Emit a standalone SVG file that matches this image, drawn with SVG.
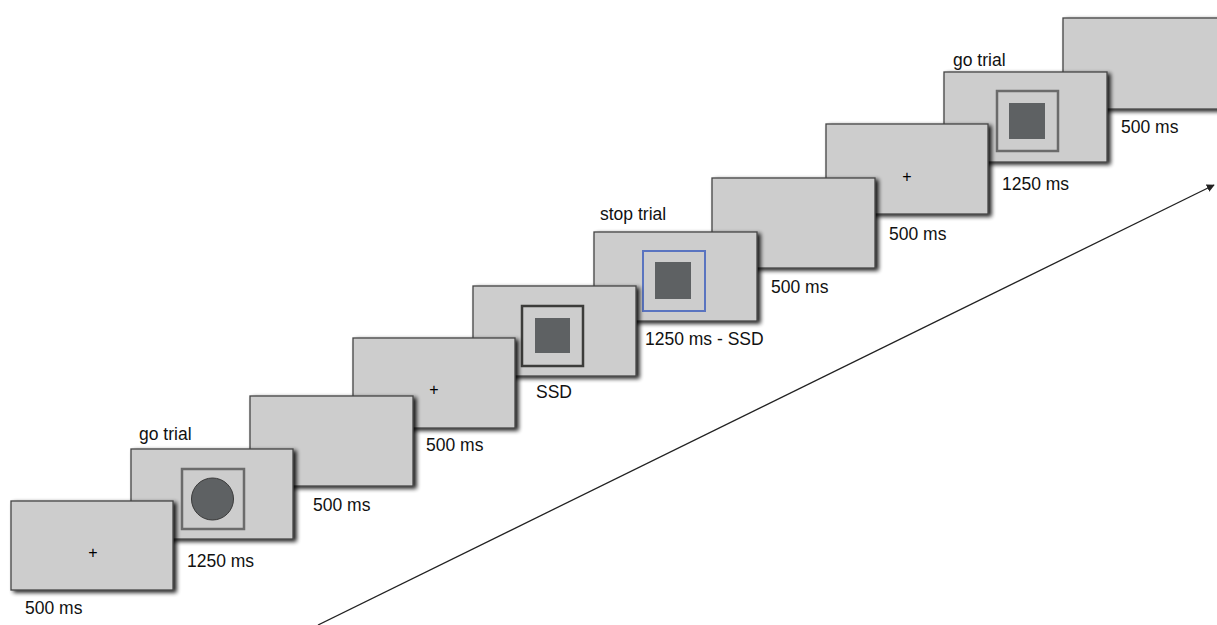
<svg xmlns="http://www.w3.org/2000/svg" width="1217" height="625" viewBox="0 0 1217 625">
<defs>
<filter id="sh" x="-10%" y="-10%" width="125%" height="130%">
<feGaussianBlur in="SourceAlpha" stdDeviation="2"/>
<feOffset dx="2.5" dy="2" result="b"/>
<feComponentTransfer><feFuncA type="linear" slope="0.9"/></feComponentTransfer>
<feMerge><feMergeNode/><feMergeNode in="SourceGraphic"/></feMerge>
</filter>
<marker id="ah" viewBox="0 0 10 10" refX="9" refY="5" markerWidth="8" markerHeight="8" orient="auto" markerUnits="userSpaceOnUse">
<path d="M0,0 L10,5 L0,10 z" fill="#222"/>
</marker>
</defs>
<style>
.scr{fill:#cdcdcd;stroke:#454545;stroke-width:1.3;filter:url(#sh)}
.frm{fill:none;stroke:#6b6b6b;stroke-width:2.5}
.stim{fill:#5e6163}
.t{font-family:"Liberation Sans",Arial,sans-serif;font-size:17.5px;fill:#111}
.p{font-family:"Liberation Sans",Arial,sans-serif;font-size:16px;fill:#000;text-anchor:middle}
</style>
<rect width="1217" height="625" fill="#fff"/>
<g id="connectors">
<line x1="318" y1="625" x2="1214" y2="185" stroke="#222" stroke-width="1.3" marker-end="url(#ah)"/>
</g>
<g id="screen10">
<rect class="scr" x="1063" y="18" width="170" height="91"/>
<text class="t" x="1121" y="133">500 ms</text>
</g>
<g id="screen9">
<rect class="scr" x="944" y="72" width="163" height="90"/>
<rect class="frm" x="997" y="91" width="61" height="60"/>
<rect class="stim" x="1009" y="103" width="36" height="36"/>
<text class="t" x="953" y="66">go trial</text>
<text class="t" x="1002" y="190">1250 ms</text>
</g>
<g id="screen8">
<rect class="scr" x="826" y="124" width="162" height="90"/>
<text class="p" x="907" y="182">+</text>
<text class="t" x="889" y="240">500 ms</text>
</g>
<g id="screen7">
<rect class="scr" x="712" y="178" width="163" height="90"/>
<text class="t" x="771" y="293">500 ms</text>
</g>
<g id="screen6">
<rect class="scr" x="594" y="232" width="163" height="89"/>
<rect x="643" y="251" width="62" height="60" fill="none" stroke="#5a74c0" stroke-width="2"/>
<rect class="stim" x="655" y="262" width="36" height="37"/>
<text class="t" x="600" y="220">stop trial</text>
<text class="t" x="645" y="345">1250 ms - SSD</text>
</g>
<g id="screen5">
<rect class="scr" x="473" y="286" width="163" height="90"/>
<rect x="522" y="306" width="61" height="60" fill="none" stroke="#3c3c3a" stroke-width="2.5"/>
<rect class="stim" x="535" y="318" width="35" height="35"/>
<text class="t" x="536" y="398">SSD</text>
</g>
<g id="screen4">
<rect class="scr" x="353" y="338" width="162" height="90"/>
<text class="p" x="434" y="395">+</text>
<text class="t" x="426" y="451">500 ms</text>
</g>
<g id="screen3">
<rect class="scr" x="250" y="396" width="163" height="90"/>
<text class="t" x="313" y="511">500 ms</text>
</g>
<g id="screen2">
<rect class="scr" x="131" y="449" width="162" height="90"/>
<rect class="frm" x="182" y="469" width="62" height="60"/>
<circle class="stim" cx="212.5" cy="499" r="21" stroke="#3a3a3a" stroke-width="1"/>
<text class="t" x="139" y="440">go trial</text>
<text class="t" x="187" y="567">1250 ms</text>
</g>
<g id="screen1">
<rect class="scr" x="11" y="501" width="162" height="89"/>
<text class="p" x="93" y="558">+</text>
<text class="t" x="25" y="614">500 ms</text>
</g>
</svg>
